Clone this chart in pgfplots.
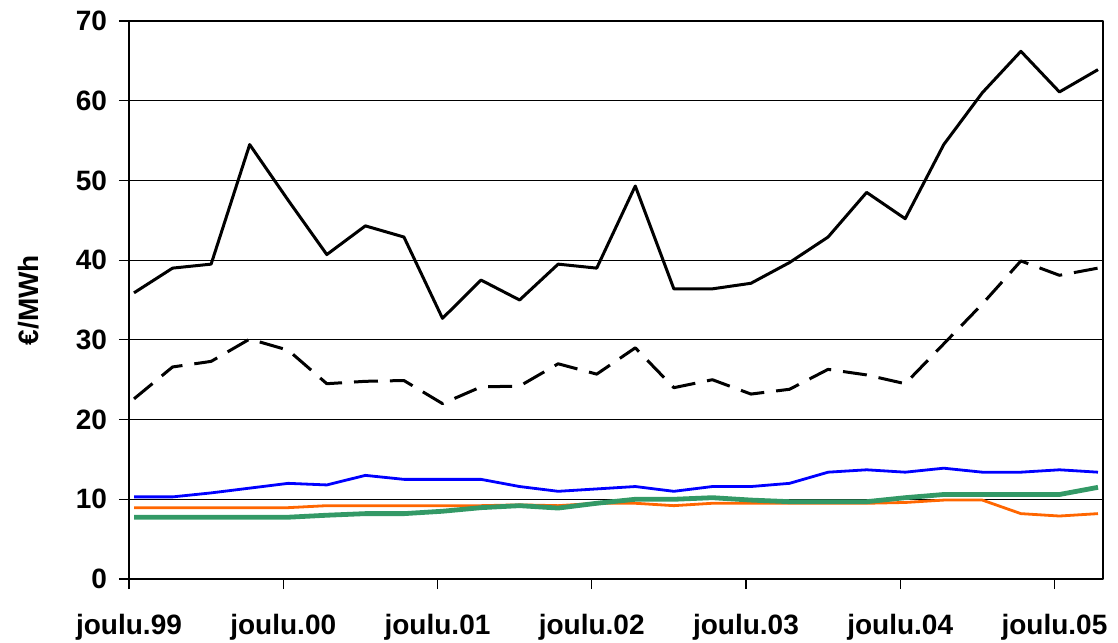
\documentclass[border=0pt]{standalone}
\usepackage{pgfplots}
\pgfplotsset{compat=1.18}
\usepackage{pgfplotstable}
\usepackage{fontspec}
\setmainfont{Liberation Sans}
\definecolor{cblue}{RGB}{0,0,255}
\definecolor{corange}{RGB}{255,102,0}
\definecolor{cgreen}{RGB}{51,153,102}
\pgfplotstableread{
idx solid dashed blue orange green
0 35.9 22.6 10.3 8.95 7.75
1 39.0 26.6 10.3 8.95 7.75
2 39.5 27.3 10.8 8.95 7.75
3 54.5 30.1 11.4 8.95 7.75
4 47.5 28.7 12.0 8.95 7.75
5 40.7 24.5 11.8 9.2 8.0
6 44.3 24.8 13.0 9.2 8.2
7 42.9 24.9 12.5 9.2 8.2
8 32.7 22.0 12.5 9.2 8.5
9 37.5 24.1 12.5 9.2 8.95
10 35.0 24.2 11.6 9.3 9.2
11 39.5 27.0 11.0 9.2 8.9
12 39.0 25.7 11.3 9.5 9.5
13 49.3 29.0 11.6 9.5 10.0
14 36.4 24.0 11.0 9.2 10.0
15 36.4 25.0 11.6 9.5 10.2
16 37.1 23.2 11.6 9.5 9.9
17 39.7 23.8 12.0 9.5 9.7
18 42.9 26.3 13.4 9.5 9.7
19 48.5 25.6 13.7 9.5 9.7
20 45.2 24.5 13.4 9.6 10.2
21 54.5 29.5 13.9 9.9 10.6
22 61.0 34.5 13.4 9.9 10.6
23 66.2 39.9 13.4 8.2 10.6
24 61.1 38.1 13.7 7.9 10.6
25 63.9 39.0 13.4 8.2 11.5
}\datatable
\begin{document}
\begin{tikzpicture}
\useasboundingbox (-64.5pt,-31.5pt) rectangle (494.5pt,289.5pt);
\begin{axis}[
  at={(0,0)}, anchor=south west,
  scale only axis, width=487pt, height=279pt,
  xmin=-0.13, xmax=25.13, ymin=0, ymax=70,
  ytick={0,10,...,70},
  xtick={-0.13,3.87,7.87,11.87,15.87,19.87,23.87},
  xticklabels={joulu.99,joulu.00,joulu.01,joulu.02,joulu.03,joulu.04,joulu.05},
  ymajorgrids, grid style={black, line width=0.6pt},
  tick align=outside, xtick pos=bottom, ytick pos=left,
  major tick length=5pt, tick style={black, line width=0.6pt},
  axis line style={black, line width=0.8pt},
  ticklabel style={font=\bfseries\fontsize{14}{16}\selectfont},
  /pgf/number format/assume math mode=true,
  xticklabel style={yshift=-9pt},
  yticklabel style={xshift=-2.5pt},
  ylabel={€/MWh},
  ylabel style={font=\bfseries\fontsize{14}{16}\selectfont, at={(axis description cs:-0.1027,0.5)}, anchor=center, rotate=0},
  line join=round,
]
\addplot[black, line width=1.5pt, mark=none] table[x=idx, y=solid] {\datatable};
\addplot[black, line width=1.5pt, mark=none, dash pattern=on 12pt off 6pt] table[x=idx, y=dashed] {\datatable};
\addplot[cblue, line width=1.4pt, mark=none] table[x=idx, y=blue] {\datatable};
\addplot[corange, line width=1.4pt, mark=none] table[x=idx, y=orange] {\datatable};
\addplot[cgreen, line width=2.4pt, mark=none] table[x=idx, y=green] {\datatable};
\end{axis}
\end{tikzpicture}
\end{document}
